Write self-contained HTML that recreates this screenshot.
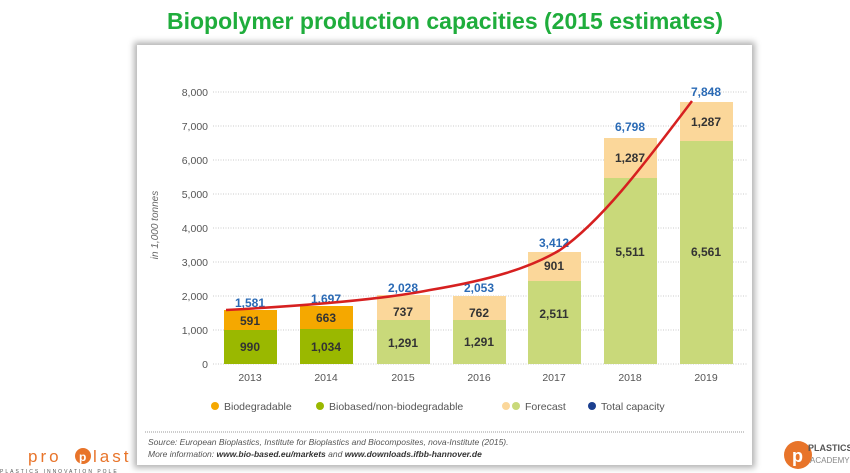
<!DOCTYPE html>
<html><head><meta charset="utf-8"><style>
body{margin:0;width:850px;height:473px;background:#fff;overflow:hidden;position:relative;font-family:"Liberation Sans",sans-serif}
.title{position:absolute;top:8px;left:0;width:850px;text-align:center;color:#1fad3c;font-weight:bold;font-size:23px}
.card{position:absolute;left:137px;top:45px;width:615px;height:420px;background:#fff;box-shadow:0 0 6px 3px rgba(0,0,0,.3)}
</style></head><body>
<div class="title" style="left:20px">Biopolymer production capacities (2015 estimates)</div>
<div class="card"></div>
<svg width="850" height="473" style="position:absolute;left:0;top:0" font-family="Liberation Sans, sans-serif">
<g stroke="#bbb" stroke-dasharray="1,1.5" stroke-width="0.8">
<line x1="213" x2="748" y1="92" y2="92"/><line x1="213" x2="748" y1="126" y2="126"/><line x1="213" x2="748" y1="160" y2="160"/><line x1="213" x2="748" y1="194" y2="194"/><line x1="213" x2="748" y1="228" y2="228"/><line x1="213" x2="748" y1="262" y2="262"/><line x1="213" x2="748" y1="296" y2="296"/><line x1="213" x2="748" y1="330" y2="330"/><line x1="213" x2="748" y1="364" y2="364"/>
</g>
<g font-size="10.5" fill="#555" text-anchor="end">
<text x="208" y="96">8,000</text><text x="208" y="130">7,000</text><text x="208" y="164">6,000</text><text x="208" y="198">5,000</text><text x="208" y="232">4,000</text><text x="208" y="266">3,000</text><text x="208" y="300">2,000</text><text x="208" y="334">1,000</text><text x="208" y="368">0</text>
</g>
<text transform="translate(158,225) rotate(-90)" font-size="10" font-style="italic" fill="#666" text-anchor="middle">in 1,000 tonnes</text>
<rect x="224" y="330" width="53" height="34" fill="#9ab800"/><rect x="224" y="310" width="53" height="20" fill="#f5a800"/>
<rect x="300" y="329" width="53" height="35" fill="#9ab800"/><rect x="300" y="306" width="53" height="23" fill="#f5a800"/>
<rect x="377" y="320" width="53" height="44" fill="#c9d97a"/><rect x="377" y="295" width="53" height="25" fill="#fbd79a"/>
<rect x="453" y="320" width="53" height="44" fill="#c9d97a"/><rect x="453" y="296" width="53" height="24" fill="#fbd79a"/>
<rect x="528" y="281" width="53" height="83" fill="#c9d97a"/><rect x="528" y="252" width="53" height="29" fill="#fbd79a"/>
<rect x="604" y="178" width="53" height="186" fill="#c9d97a"/><rect x="604" y="138" width="53" height="40" fill="#fbd79a"/>
<rect x="680" y="141" width="53" height="223" fill="#c9d97a"/><rect x="680" y="102" width="53" height="39" fill="#fbd79a"/>
<g font-size="12" font-weight="bold" fill="#333" text-anchor="middle">
<text x="250" y="351">990</text><text x="250" y="325">591</text>
<text x="326" y="351">1,034</text><text x="326" y="322">663</text>
<text x="403" y="347">1,291</text><text x="403" y="316">737</text>
<text x="479" y="346">1,291</text><text x="479" y="317">762</text>
<text x="554" y="318">2,511</text><text x="554" y="270">901</text>
<text x="630" y="256">5,511</text><text x="630" y="162">1,287</text>
<text x="706" y="256">6,561</text><text x="706" y="126">1,287</text>
</g>
<g font-size="12" font-weight="bold" fill="#2a6ab5" text-anchor="middle">
<text x="250" y="307">1,581</text><text x="326" y="303">1,697</text><text x="403" y="292">2,028</text><text x="479" y="292">2,053</text><text x="554" y="247">3,412</text><text x="630" y="131">6,798</text><text x="706" y="96">7,848</text>
</g>
<path d="M226,310 C300,306 380,300 430,290 C490,280 530,268 560,250 C600,222 640,170 692,101" fill="none" stroke="#d62020" stroke-width="2.5"/>
<g font-size="10.5" fill="#555" text-anchor="middle">
<text x="250" y="381">2013</text><text x="326" y="381">2014</text><text x="403" y="381">2015</text><text x="479" y="381">2016</text><text x="554" y="381">2017</text><text x="630" y="381">2018</text><text x="706" y="381">2019</text>
</g>
<g font-size="10.5" fill="#555">
<circle cx="215" cy="406" r="4" fill="#f5a800"/><text x="224" y="410">Biodegradable</text>
<circle cx="320" cy="406" r="4" fill="#9ab800"/><text x="329" y="410">Biobased/non-biodegradable</text>
<circle cx="506" cy="406" r="4" fill="#fbd79a"/><circle cx="516" cy="406" r="4" fill="#c9d97a"/><text x="525" y="410">Forecast</text>
<circle cx="592" cy="406" r="4" fill="#1b3f8f"/><text x="601" y="410">Total capacity</text>
</g>
<line x1="145" x2="745" y1="432" y2="432" stroke="#999" stroke-dasharray="1,1"/>
<g font-size="8.5" font-style="italic" fill="#555">
<text x="148" y="445">Source: European Bioplastics, Institute for Bioplastics and Biocomposites, nova-Institute (2015).</text>
<text x="148" y="457">More information: <tspan font-weight="bold" fill="#333">www.bio-based.eu/markets</tspan> and <tspan font-weight="bold" fill="#333">www.downloads.ifbb-hannover.de</tspan></text>
</g>
<text x="28" y="462" font-size="17" fill="#e8742a" letter-spacing="3">pro</text>
<circle cx="83" cy="456" r="8" fill="#e8742a"/><text x="79" y="461" font-size="12" fill="#fff" font-weight="bold">p</text>
<text x="93" y="462" font-size="17" fill="#e8742a" letter-spacing="3">last</text>
<text x="0" y="473" font-size="5" fill="#555" letter-spacing="2">PLASTICS INNOVATION POLE</text>
<circle cx="798" cy="455" r="14" fill="#e8742a"/><text x="792" y="462" font-size="18" fill="#fff" font-weight="bold">p</text>
<text x="808" y="451" font-size="9" font-weight="bold" fill="#555">PLASTICS</text>
<text x="810" y="463" font-size="8" fill="#888">ACADEMY</text>
</svg>
</body></html>
